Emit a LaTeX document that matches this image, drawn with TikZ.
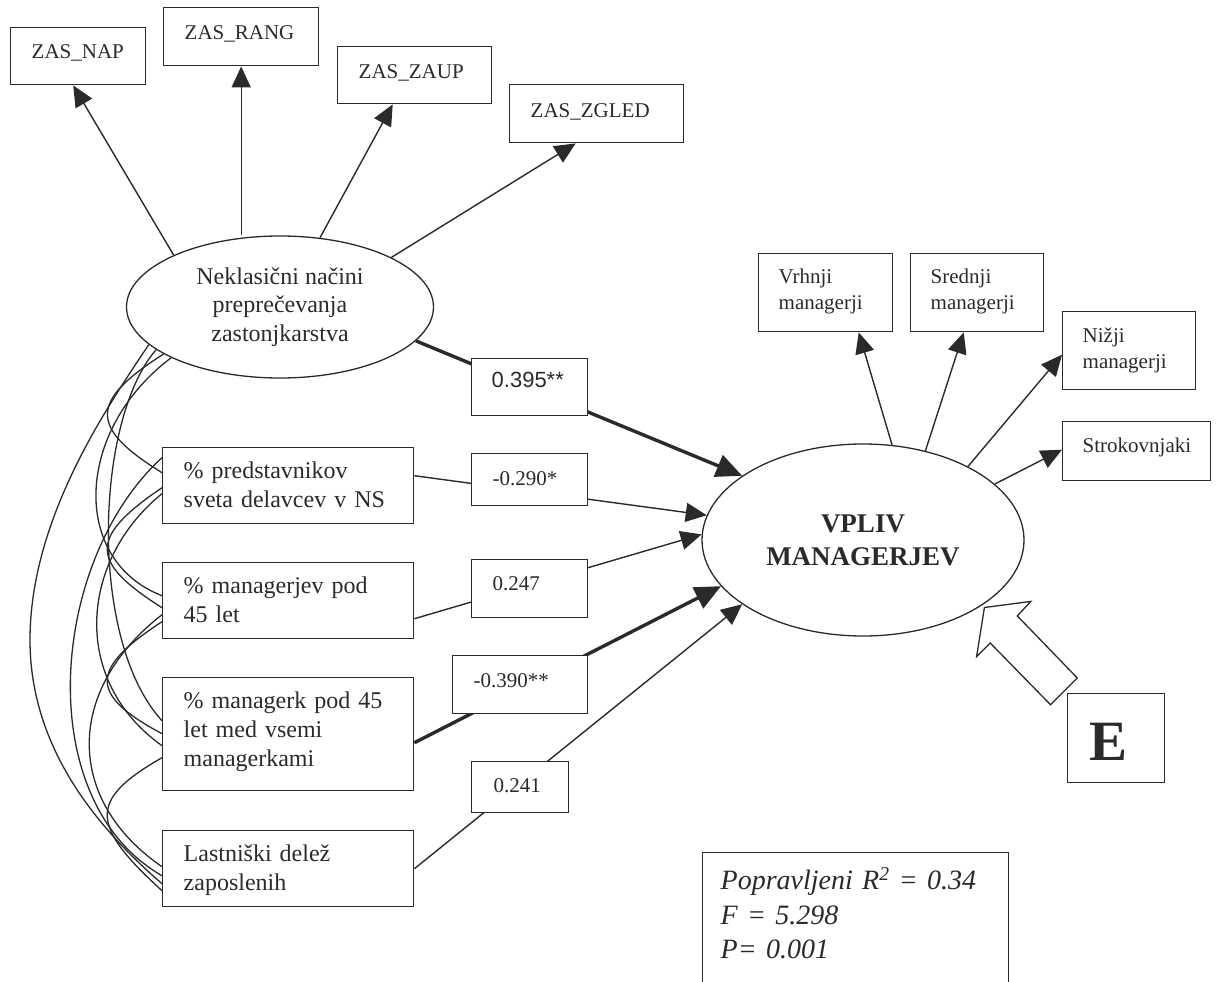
\documentclass[tikz,border=0pt]{standalone}
\usepackage{fontspec}
\setmainfont{Liberation Serif}
\newfontfamily\arialfont{Liberation Sans}
\usetikzlibrary{arrows.meta,shapes.geometric}
\definecolor{ink}{RGB}{42,42,44}
\newcommand\zasfont{\fontsize{21}{25.5}\selectfont}
\newcommand\varfont{\fontsize{24}{29}\selectfont}
\newcommand\coeffont{\fontsize{21}{25}\selectfont}
\newcommand\sigfont{\arialfont\fontsize{22}{26}\selectfont}
\newcommand\latfont{\fontsize{24}{28.5}\selectfont}
\newcommand\vplivfont{\bfseries\fontsize{27}{33}\selectfont}
\newcommand\errfont{\bfseries\fontsize{57}{60}\selectfont}
\newcommand\statfont{\itshape\fontsize{28}{34.5}\selectfont}

\begin{document}
\begin{tikzpicture}[x=1pt, y=-1pt, line width=1.4pt,
  box/.style={draw=ink, line width=1.4pt, rectangle, anchor=north west,
    inner ysep=0pt, align=left, text=ink},
  latent/.style={draw=ink, line width=1.3pt, ellipse, inner sep=0pt,
    align=center, text=ink},
  coef/.style={box, fill=white, font=\coeffont},
  link/.style={draw=ink, line width=1.4pt, -{Triangle[length=21pt,width=19pt]}},
  strong/.style={draw=ink, line width=3.4pt, -{Triangle[length=26pt,width=23pt]}},
  cov/.style={draw=ink, line width=1.3pt},
]
\useasboundingbox (0,0) rectangle (1218,982);

% indicator boxes of the left latent variable
\node[box, font=\zasfont, inner xsep=21pt, text width=93pt, text height=31pt, text depth=26pt] (nap) at (10,27) {ZAS\_NAP};
\node[box, font=\zasfont, inner xsep=21pt, text width=113pt, text height=32pt, text depth=26pt] (rang) at (163,7) {ZAS\_RANG};
\node[box, font=\zasfont, inner xsep=21pt, text width=112pt, text height=32pt, text depth=25pt] (zaup) at (337,46) {ZAS\_ZAUP};
\node[box, font=\zasfont, inner xsep=21pt, text width=132pt, text height=33pt, text depth=25pt] (zgled) at (509,84) {ZAS\_ZGLED};

% latent variables
\node[latent, minimum width=307pt, minimum height=142pt, font=\latfont] (nek) at (280,307)
  {Neklasični načini\\preprečevanja\\zastonjkarstva};
\node[latent, minimum width=322pt, minimum height=192pt, font=\vplivfont] (vpliv) at (863,540)
  {VPLIV\\MANAGERJEV};

% observed predictors
\node[box, font=\varfont, inner xsep=21pt, text width=209pt, text height=31pt, text depth=45pt] (pred) at (162,447)
  {\% predstavnikov\\sveta delavcev v NS};
\node[box, font=\varfont, inner xsep=21pt, text width=209pt, text height=31pt, text depth=45pt] (mgr) at (162,562)
  {\% managerjev pod\\45 let};
\node[box, font=\varfont, inner xsep=21pt, text width=209pt, text height=31pt, text depth=82pt] (mgrk) at (162,677)
  {\% managerk pod 45\\let med vsemi\\managerkami};
\node[box, font=\varfont, inner xsep=21pt, text width=209pt, text height=31pt, text depth=45pt] (last) at (162,830)
  {Lastniški delež\\zaposlenih};

% indicator boxes of the dependent latent variable
\node[box, font=\zasfont, inner xsep=20pt, text width=94pt, text height=30pt, text depth=48pt] (vrh) at (758,253)
  {Vrhnji\\managerji};
\node[box, font=\zasfont, inner xsep=20pt, text width=93pt, text height=30pt, text depth=48pt] (sred) at (910,253)
  {Srednji\\managerji};
\node[box, font=\zasfont, inner xsep=20pt, text width=93pt, text height=31pt, text depth=47pt] (nizji) at (1062,311)
  {Nižji\\managerji};
\node[box, font=\zasfont, inner xsep=20pt, text width=108pt, text height=31pt, text depth=28pt] (strok) at (1062,421)
  {Strokovnjaki};

% error term and fit statistics
\node[box, font=\errfont, inner xsep=22pt, text width=53pt, text height=67pt, text depth=22pt] (err) at (1067,693) {E};
\node[box, font=\statfont, inner xsep=18pt, text width=270pt, text height=37pt, text depth=106pt] (stats) at (702,852)
  {Popravljeni R\textsuperscript{2} = 0.34\\F = 5.298\\P= 0.001};

% covariances among the exogenous variables
\draw[cov] (nek.196) .. controls (105,410) and (30,520) .. (30,640)
                     .. controls (30,750) and (100,830) .. ([yshift=-15pt]last.west);
\draw[cov] (nek.199) .. controls (95,420) and (88,640) .. ([yshift=13.5pt]mgrk.west);
\draw[cov] (nek.202) .. controls (88,402) and (90,428) .. ([yshift=13pt]pred.west);
\draw[cov] (nek.205) .. controls (75,430) and (70,560) .. ([yshift=5pt]mgr.west);
\draw[cov] ([yshift=-2pt]pred.west) .. controls (88,538) and (90,562) .. ([yshift=-7pt]mgr.west);
\draw[cov] ([yshift=-8pt]pred.west) .. controls (80,560) and (70,680) .. ([yshift=-11.5pt]mgrk.west);
\draw[cov] ([yshift=28pt]pred.west) .. controls (50,560) and (30,800) .. ([yshift=-7pt]last.west);
\draw[cov] ([yshift=-21pt]mgr.west) .. controls (88,670) and (90,695) .. ([yshift=0.5pt]mgrk.west);
\draw[cov] ([yshift=-14pt]mgr.west) .. controls (65,690) and (65,800) .. ([yshift=2pt]last.west);
\draw[cov] ([yshift=-23.5pt]mgrk.west) .. controls (88,800) and (90,825) .. ([yshift=-22pt]last.west);

% loadings of the left latent variable
\draw[link] (nek.154) -- ([xshift=-5pt]nap.south);
\draw[link] (nek.north -| rang.south) -- (rang.south);
\draw[link] (nek.60) -- ([xshift=-22pt]zaup.south);
\draw[link] (nek.24) -- ([xshift=-21pt]zgled.south);

% loadings of the dependent latent variable
\draw[link] (vpliv.73) -- ([xshift=33pt]vrh.south);
\draw[link] (vpliv.55) -- ([xshift=-13.5pt]sred.south);
\draw[link] (vpliv.35) -- ([yshift=-4pt]nizji.west);
\draw[link] (vpliv.23) -- ([yshift=1.5pt]strok.west);

% regression paths
\draw[strong] (nek.-14) -- (vpliv.152);
\draw[link] ([yshift=10pt]pred.east) -- (vpliv.171);
\draw[link] ([yshift=-18pt]mgr.east) -- (vpliv.178);
\draw[strong] ([yshift=-8.5pt]mgrk.east) -- (vpliv.198);
\draw[link] (last.east) -- (vpliv.208);

% coefficients
\node[coef, font=\sigfont, inner xsep=20pt, text width=76pt, text height=29pt, text depth=28pt] (c1) at (471,358) {0.395**};
\node[coef, inner xsep=21pt, text width=74pt, text height=32pt, text depth=20pt] (c2) at (471,453) {-0.290*};
\node[coef, inner xsep=21pt, text width=74pt, text height=31pt, text depth=27pt] (c3) at (471,559) {0.247};
\node[coef, inner xsep=21pt, text width=93pt, text height=32pt, text depth=26pt] (c4) at (452,655) {-0.390**};
\node[coef, inner xsep=22pt, text width=53pt, text height=31pt, text depth=20pt] (c5) at (471,761) {0.241};

% hollow arrow from the error term
\draw[draw=ink, line width=1.3pt, fill=white, line join=miter]
  (984.4,607.5) -- (1030.8,601.4) -- (1017.3,615.9) -- (1077.3,678)
  -- (1050.5,704.7) -- (990.2,643) -- (976.6,656.6) -- cycle;
\end{tikzpicture}
\end{document}
